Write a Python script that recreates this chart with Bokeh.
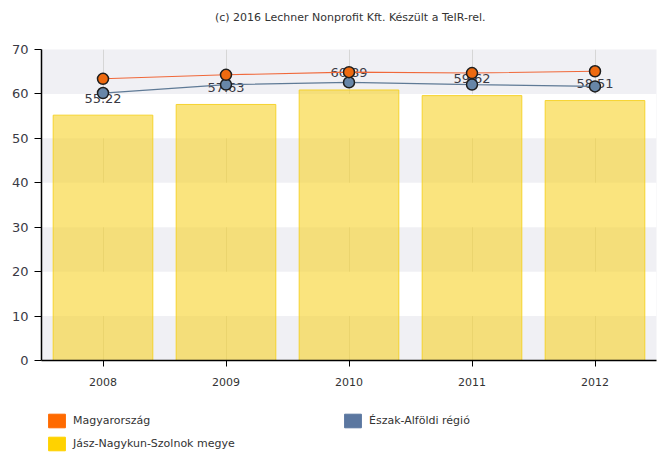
from bokeh.plotting import figure
from bokeh.layouts import column
from bokeh.models import (ColumnDataSource, FactorRange, Range1d, Legend, LegendItem,
                          FixedTicker, Label)
from bokeh.embed import file_html
from bokeh.resources import INLINE
from bokeh.core.properties import value

# Data
years = ["2008", "2009", "2010", "2011", "2012"]
megye = [55.22, 57.63, 60.89, 59.62, 58.51]      # Jász-Nagykun-Szolnok megye
orszag = [63.4, 64.3, 64.9, 64.7, 65.1]          # Magyarország
regio = [60.2, 62.1, 62.6, 62.1, 61.7]           # Észak-Alföldi régió
y_ticks = [0, 10, 20, 30, 40, 50, 60, 70]

name_orszag = "Magyarország"
name_regio = "Észak-Alföldi régió"
name_megye = "Jász-Nagykun-Szolnok megye"
credit = "(c) 2016 Lechner Nonprofit Kft. Készült a TeIR-rel."

FONT = "DejaVu Sans"
TXT = "#333333"
BAND = "#f0f0f4"
W = 657
HEAD_H, MAIN_H, LEG_H = 30, 370, 57

src = ColumnDataSource(dict(
    year=years,
    megye=megye,
    orszag=orszag,
    regio=regio,
    label=[f"{v:.2f}" for v in megye],
))


def blank_figure(height):
    f = figure(width=W, height=height, x_range=Range1d(0, 1), y_range=Range1d(0, 1),
               output_backend="svg", toolbar_location=None,
               x_axis_location=None, y_axis_location=None,
               min_border=0)
    f.grid.visible = False
    f.outline_line_color = None
    return f


# ---- header with the credit line (frame is aligned with the chart frame)
head = blank_figure(HEAD_H)
head.add_layout(Label(x=0.502, y=0.45, text=credit, text_align="center",
                      text_baseline="middle", text_font=FONT,
                      text_font_size="11px", text_color=TXT))

# ---- main chart
p = figure(
    width=W, height=MAIN_H,
    x_range=FactorRange(*years),
    y_range=Range1d(0, 70),
    output_backend="svg",
    toolbar_location=None,
    min_border_left=41, min_border_right=1,
    min_border_top=19, min_border_bottom=40,
)
p.outline_line_color = None
# grey plot area with white bands between 10-20, 30-40, 50-60
p.background_fill_color = BAND
p.ygrid.ticker = FixedTicker(ticks=y_ticks)
p.ygrid.grid_line_color = None
p.ygrid.band_fill_color = "white"
p.ygrid.band_fill_alpha = 1.0
p.xgrid.grid_line_color = "#d6d6d6"
p.xgrid.grid_line_width = 1

# axes
p.yaxis.ticker = FixedTicker(ticks=y_ticks)
p.yaxis.axis_line_color = "black"
p.yaxis.axis_line_width = 1.5
p.yaxis.major_tick_line_color = "black"
p.yaxis.major_tick_out = 7
p.yaxis.major_tick_in = 0
p.yaxis.minor_tick_line_color = None
p.yaxis.major_label_text_font = FONT
p.yaxis.major_label_text_font_size = "13px"
p.yaxis.major_label_text_color = "#3a3a44"
p.yaxis.major_label_standoff = 6

p.xaxis.axis_line_color = "black"
p.xaxis.axis_line_width = 1.5
p.xaxis.major_tick_line_color = "black"
p.xaxis.major_tick_out = 6
p.xaxis.major_tick_in = 0
p.xaxis.major_label_text_font = FONT
p.xaxis.major_label_text_font_size = "11px"
p.xaxis.major_label_text_color = TXT
p.xaxis.major_label_standoff = 11

# county bars
p.vbar(x="year", top="megye", width=0.81, source=src,
       fill_color="#f7d228", fill_alpha=0.6,
       line_color="#f5d020", line_alpha=0.9, line_width=1)

# value labels of the bars
p.text(x="year", y="megye", text="label", source=src,
       y_offset=-17, text_align="center", text_baseline="middle",
       text_font=value(FONT), text_font_size="13px", text_color="#3a3a44")

# region and country lines with markers
p.line(x="year", y="regio", source=src, line_color="#5f7a96", line_width=1.3)
p.line(x="year", y="orszag", source=src, line_color="#f0683a", line_width=1.1)
p.scatter(x="year", y="regio", source=src, size=11,
          fill_color="#6786a8", line_color="#1e1e1e", line_width=1.5)
p.scatter(x="year", y="orszag", source=src, size=11,
          fill_color="#ee6a10", line_color="#1e1e1e", line_width=1.5)

# ---- legend strip; swatch renderers use the series values, which lie
# outside this strip's 0..1 ranges, so only their legend squares show
leg = blank_figure(LEG_H)


def swatch(col, color):
    return leg.quad(left=col, right=col, bottom=col, top=col, source=src,
                    fill_color=color, line_color=color)


sw_o = swatch("orszag", "#ff6a00")
sw_r = swatch("regio", "#5b77a0")
sw_m = swatch("megye", "#ffd200")


def make_legend(items, loc):
    return Legend(items=items, location=loc, orientation="vertical",
                  glyph_width=21, glyph_height=17, label_height=17,
                  label_standoff=6, spacing=6, padding=0, margin=0,
                  border_line_color=None, background_fill_alpha=0,
                  label_text_font=FONT, label_text_font_size="11px",
                  label_text_color=TXT)


leg.add_layout(make_legend([LegendItem(label=name_orszag, renderers=[sw_o]),
                            LegendItem(label=name_megye, renderers=[sw_m])], (5, 5)), "center")
leg.add_layout(make_legend([LegendItem(label=name_regio, renderers=[sw_r])], (301, 28)), "center")

layout = column(head, p, leg, spacing=0)
open("out.html", "w").write(file_html(layout, INLINE))
